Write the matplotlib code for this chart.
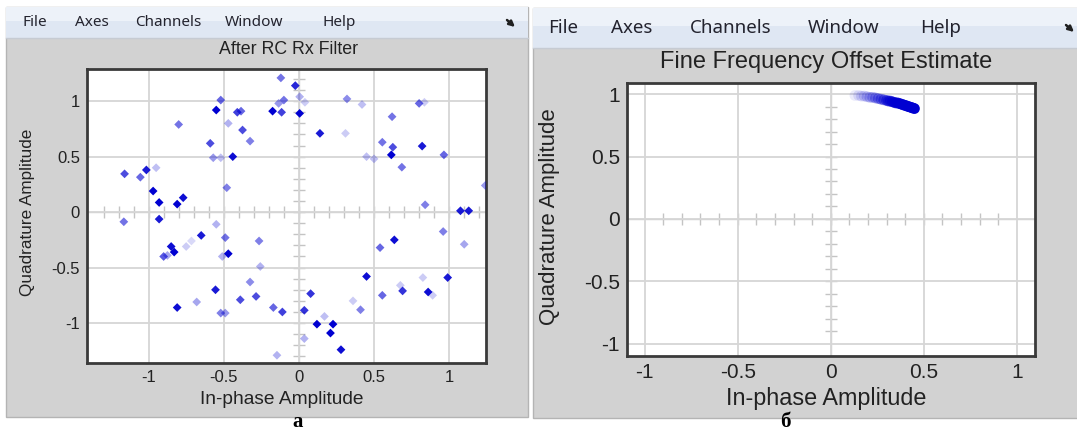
import numpy as np
import matplotlib
matplotlib.use('Agg')
import matplotlib.pyplot as plt
from matplotlib.patches import Rectangle

W, H = 1077, 438

# panel a: received symbols after the RC Rx filter (I, Q, fade level)
a_i = [-0.12, -0.52, -0.55, -0.135, -0.10, -0.175, -0.115, -0.41, -0.385, -0.80,
       -0.47, -0.375, -0.325, -0.59, -0.57, -0.52, -0.44, -1.015, -0.95, -1.16,
       -1.055, -0.97, -0.48, -0.93, -0.81, -0.77, -0.93, -0.024, 0.005, 0.04,
       0.005, 0.32, 0.42, 0.80, 0.835, 0.62, 0.14, 0.31, 0.555, 0.625,
       0.82, 0.615, 0.45, 0.50, 0.965, 0.685, 0.84, 1.075, 1.13, 1.24,
       -1.165, -0.55, -0.65, -0.49, -0.265, -0.85, -0.75, -0.715, -0.83, -0.90,
       -0.875, -0.47, -0.51, -0.257, -0.325, -0.555, -0.39, -0.285, -0.68, -0.81,
       -0.17, -0.11, -0.52, -0.49, -0.146, 0.96, 1.10, 0.635, 0.54, 0.45,
       0.825, 0.99, 0.675, 0.69, 0.86, 0.89, 0.555, 0.36, 0.41, 0.078,
       0.036, 0.17, 0.12, 0.227, 0.21, 0.036, 0.28]
a_q = [1.21, 1.01, 0.92, 0.98, 1.01, 0.91, 0.90, 0.90, 0.91, 0.79,
       0.80, 0.74, 0.64, 0.62, 0.49, 0.49, 0.50, 0.38, 0.40, 0.345,
       0.315, 0.19, 0.22, 0.087, 0.072, 0.13, -0.063, 1.14, 1.04, 0.99,
       0.89, 1.02, 0.97, 0.98, 0.99, 0.86, 0.71, 0.71, 0.63, 0.585,
       0.595, 0.516, 0.50, 0.48, 0.516, 0.405, 0.066, 0.012, 0.012, 0.24,
       -0.087, -0.11, -0.21, -0.23, -0.26, -0.31, -0.31, -0.26, -0.36, -0.40,
       -0.39, -0.375, -0.40, -0.49, -0.63, -0.70, -0.79, -0.76, -0.81, -0.86,
       -0.86, -0.90, -0.91, -0.91, -1.29, -0.175, -0.29, -0.25, -0.32, -0.58,
       -0.59, -0.59, -0.66, -0.71, -0.72, -0.75, -0.75, -0.80, -0.88, -0.735,
       -0.885, -0.94, -1.01, -1.01, -1.09, -1.14, -1.24]
a_fade = [0.55, 0.6, 1.0, 0.4, 0.55, 1.0, 0.75, 0.75, 0.6, 0.55,
          0.3, 0.7, 0.5, 0.7, 0.4, 0.25, 0.95, 0.9, 0.25, 0.7,
          0.6, 1.0, 0.5, 1.0, 1.0, 0.95, 0.9, 0.85, 0.3, 0.2,
          1.0, 0.45, 0.25, 0.6, 0.2, 0.55, 0.9, 0.2, 0.55, 0.7,
          0.9, 1.0, 0.25, 0.25, 0.6, 0.55, 0.5, 0.9, 0.9, 0.4,
          0.55, 0.3, 0.9, 0.55, 0.5, 0.95, 0.2, 0.15, 1.0, 0.65,
          0.35, 1.0, 0.3, 0.3, 0.45, 0.9, 0.7, 0.7, 0.35, 0.95,
          0.6, 0.75, 0.5, 0.4, 0.3, 0.5, 0.35, 0.95, 0.6, 0.95,
          0.2, 0.9, 0.2, 0.8, 0.95, 0.2, 0.6, 0.2, 0.5, 0.8,
          0.8, 0.25, 1.0, 1.0, 1.0, 0.3, 0.95]

# panel b: fine frequency offset estimate trail
b_i = [0.13, 0.15, 0.165, 0.18, 0.195, 0.21, 0.225, 0.24, 0.255, 0.27,
       0.285, 0.30, 0.31, 0.32, 0.33, 0.34, 0.35, 0.36, 0.37, 0.38,
       0.39, 0.40, 0.41, 0.42, 0.43, 0.44, 0.45]
b_q = [0.99, 0.99, 0.985, 0.985, 0.98, 0.975, 0.975, 0.97, 0.965, 0.96,
       0.955, 0.95, 0.945, 0.945, 0.94, 0.935, 0.93, 0.93, 0.925, 0.92,
       0.915, 0.91, 0.905, 0.90, 0.895, 0.89, 0.885]
b_fade = [0.08, 0.1, 0.12, 0.15, 0.18, 0.22, 0.26, 0.3, 0.35, 0.4,
          0.45, 0.5, 0.55, 0.6, 0.65, 0.7, 0.75, 0.8, 0.85, 0.9,
          0.92, 0.95, 0.97, 1.0, 1.0, 1.0, 1.0]

major = [-1, -0.5, 0, 0.5, 1]
major_lbl = ['-1', '-0.5', '0', '0.5', '1']
menu = ['File', 'Axes', 'Channels', 'Window', 'Help']

GRAY = '#d2d2d2'
BLUE = (0.0, 0.0, 0.82)
TXT = '#222222'
FONT = 'Liberation Sans'


def px_axes(fig, x0, y0, x1, y1, **kw):
    return fig.add_axes([x0 / W, 1 - y1 / H, (x1 - x0) / W, (y1 - y0) / H], **kw)


def window(bg, x0, x1, y0, ymenu, y1, menu_x, menu_y, fs, arrow_x):
    bg.add_patch(Rectangle((x0, y0), x1 - x0, y1 - y0, facecolor=GRAY,
                           edgecolor='#b4b4b4', lw=1))
    bg.add_patch(Rectangle((x0, y0), x1 - x0, ymenu - y0, facecolor='#dfe7f3',
                           edgecolor='none'))
    bg.add_patch(Rectangle((x0, y0), x1 - x0, (ymenu - y0) * 0.45,
                           facecolor='#edf2f9', edgecolor='none'))
    bg.plot([x0, x1], [ymenu, ymenu], color='#c6cbd3', lw=1)
    for name, mx in zip(menu, menu_x):
        bg.text(mx, menu_y, name, fontsize=fs, color='#23232e',
                family='Noto Sans', fontweight='medium', va='center', ha='left')
    # small "dock" arrow at the right end of the menu bar
    bg.annotate('', xy=(arrow_x + 8, menu_y + 4), xytext=(arrow_x, menu_y - 3),
                arrowprops=dict(arrowstyle='-|>', color='#202020', lw=1.8,
                                mutation_scale=8, shrinkA=0, shrinkB=0))


def scope(fig, bg, box, lim, cross, points, fs, ms, marker, texts):
    x0, y0, x1, y1 = box
    base = px_axes(fig, x0, y0, x1, y1)
    base.set_facecolor('white')
    base.set_xlim(lim[0], lim[1])
    base.set_ylim(lim[2], lim[3])
    for s in ['top', 'right']:
        base.spines[s].set_visible(False)
    for s in ['left', 'bottom']:
        base.spines[s].set_position(('data', 0))
        base.spines[s].set_color('#cccccc')
        base.spines[s].set_linewidth(1.0)
    base.set_xticks(cross[0])
    base.set_yticks(cross[1])
    base.tick_params(direction='inout', length=9, width=1, color='#c4c4c4',
                     labelbottom=False, labelleft=False)

    ax = px_axes(fig, x0, y0, x1, y1)
    ax.set_facecolor('none')
    ax.set_xlim(lim[0], lim[1])
    ax.set_ylim(lim[2], lim[3])
    ax.set_xticks(major)
    ax.set_xticklabels(major_lbl)
    ax.set_yticks(major)
    ax.set_yticklabels(major_lbl)
    ax.tick_params(length=0, pad=5, labelsize=fs[0], labelcolor=TXT)
    for lbl in ax.get_xticklabels() + ax.get_yticklabels():
        lbl.set_family(FONT)
    ax.grid(True, color='#d6d6d6', lw=1.3)
    ax.set_axisbelow(True)
    for s in ax.spines.values():
        s.set_color('#3a3a3a')
        s.set_linewidth(2)
    xi, xq, fade = points
    cols = [BLUE + (f,) for f in fade]
    ax.scatter(xi, xq, s=ms, marker=marker, c=cols, linewidths=0, zorder=3)

    (tx, ty, title), (lx, ly), (yx, yy) = texts
    bg.text(tx, ty, title, fontsize=fs[1], family=FONT, color=TXT,
            ha='center', va='center')
    bg.text(lx, ly, 'In-phase Amplitude', fontsize=fs[2], family=FONT,
            color=TXT, ha='center', va='center')
    bg.text(yx, yy, 'Quadrature Amplitude', fontsize=fs[3], family=FONT,
            color=TXT, ha='center', va='center', rotation=90)
    return ax


fig = plt.figure(figsize=(W / 100, H / 100), dpi=100)
fig.patch.set_facecolor('white')
bg = fig.add_axes([0, 0, 1, 1])
bg.set_xlim(0, W)
bg.set_ylim(H, 0)
bg.axis('off')

window(bg, 6, 528, 7, 38, 417, [22, 75, 135, 225, 322], 23, 11, 507)
window(bg, 533, 1082, 8, 48, 418, [548, 611, 690, 808, 920], 28, 13.5, 1066)

scope(fig, bg, (87, 69, 486, 363), (-1.41, 1.245, -1.36, 1.29),
      (np.arange(-13, 13) / 10, np.arange(-13, 13) / 10),
      (a_i, a_q, a_fade), (12, 12.8, 13.8, 12.3), 20, 'D',
      ((289, 50, 'After RC Rx Filter'), (282, 399), (28, 212)))
scope(fig, bg, (627, 83, 1035, 356), (-1.095, 1.098, -1.1, 1.09),
      (np.arange(-9, 10) / 10, np.arange(-9, 10) / 10),
      (b_i, b_q, b_fade), (15, 17, 16.8, 16), 60, 'o',
      ((826, 62, 'Fine Frequency Offset Estimate'), (826, 398), (549, 217)))

bg.text(298, 422, 'а', fontsize=15, fontweight='bold', family='Liberation Serif',
        ha='center', va='center')
bg.text(785, 422, 'б', fontsize=15, fontweight='bold', family='Liberation Serif',
        ha='center', va='center')

fig.savefig('out.png', dpi=100, facecolor='white')
